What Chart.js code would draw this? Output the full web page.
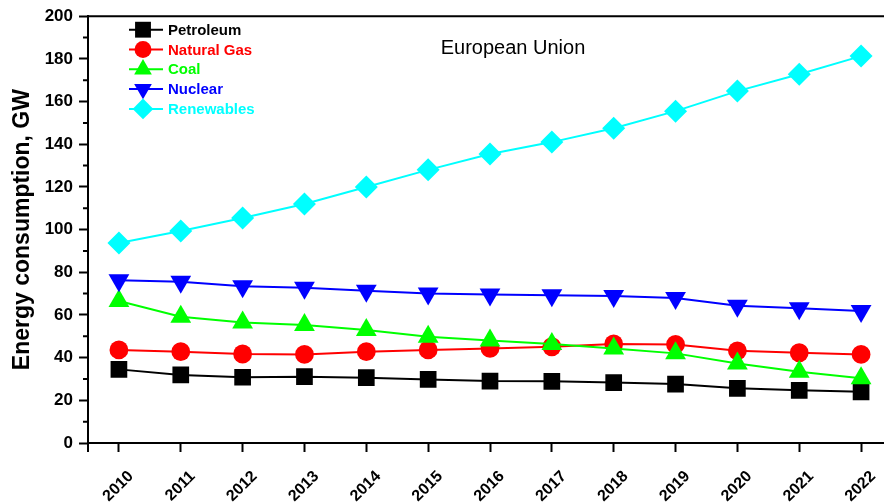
<!DOCTYPE html>
<html>
<head>
<meta charset="utf-8">
<script src="https://cdn.jsdelivr.net/npm/chart.js@4/dist/chart.umd.min.js"></script>
<style>
  html, body { margin: 0; padding: 0; background: #fff; overflow: hidden; width: 884px; height: 503px; }
  canvas { display: block; }
</style>
</head>
<body>
<canvas id="energy" width="904" height="503"></canvas>
<script>
// Annual energy consumption in the European Union, GW
const years = ['2010', '2011', '2012', '2013', '2014', '2015', '2016', '2017', '2018', '2019', '2020', '2021', '2022'];
const petroleum  = [34.5, 31.9, 30.8, 31.1, 30.6, 29.8, 29.0, 28.9, 28.3, 27.6, 25.6, 24.7, 24.0];
const naturalGas = [43.6, 42.8, 41.7, 41.5, 42.8, 43.6, 44.3, 45.1, 46.4, 46.2, 43.2, 42.3, 41.5];
const coal       = [66.5, 59.2, 56.5, 55.3, 52.9, 49.8, 48.0, 46.4, 44.3, 42.0, 37.3, 33.4, 30.3];
const nuclear    = [76.3, 75.6, 73.5, 72.8, 71.3, 70.1, 69.6, 69.2, 68.9, 67.9, 64.3, 63.1, 61.8];
const renewables = [93.7, 99.3, 105.4, 112.0, 120.0, 128.0, 135.4, 141.0, 147.5, 155.5, 164.9, 172.8, 181.3];
const yTicks      = [0, 20, 40, 60, 80, 100, 120, 140, 160, 180, 200];
const yMinorTicks = [10, 30, 50, 70, 90, 110, 130, 150, 170, 190];

const FONT = '"Liberation Sans", Arial, Helvetica, sans-serif';

function series(label, data, color, style, radius, rotation, order) {
  return {
    label, data,
    borderColor: color, backgroundColor: color,
    borderWidth: 2,
    pointStyle: style, pointRadius: radius, pointHoverRadius: radius,
    pointRotation: rotation,
    pointBorderWidth: 0,
    pointBackgroundColor: color,
    tension: 0,
    order
  };
}

// Axis frame, minor ticks, inset legend and panel title
const decorations = {
  id: 'decorations',
  afterDatasetsDraw(chart) {
    const { ctx, chartArea: a, scales: { y } } = chart;
    ctx.save();
    ctx.strokeStyle = '#000';
    ctx.lineWidth = 2;
    ctx.beginPath();
    ctx.moveTo(a.left - 1, a.top);
    ctx.lineTo(a.right, a.top);
    ctx.lineTo(a.right, a.bottom);
    ctx.moveTo(a.left, a.bottom);
    ctx.lineTo(a.left, a.bottom + 9);
    yMinorTicks.forEach(v => {
      const p = y.getPixelForValue(v);
      ctx.moveTo(a.left - 5, p);
      ctx.lineTo(a.left, p);
    });
    ctx.stroke();

    // panel title
    ctx.fillStyle = '#000';
    ctx.font = '20px ' + FONT;
    ctx.textAlign = 'center';
    ctx.textBaseline = 'alphabetic';
    ctx.fillText('European Union', a.left + 425, a.top + 38);

    // legend
    ctx.font = 'bold 15px ' + FONT;
    ctx.textAlign = 'left';
    ctx.textBaseline = 'middle';
    const legendScale = [0.95, 0.9, 0.85, 0.85, 0.9];
    chart.data.datasets.forEach((ds, i) => {
      const cy = a.top + 13.5 + i * 19.8;
      const cx = a.left + 55;
      ctx.strokeStyle = ds.borderColor;
      ctx.lineWidth = 2;
      ctx.beginPath();
      ctx.moveTo(cx - 14, cy);
      ctx.lineTo(cx + 20, cy);
      ctx.stroke();
      ctx.fillStyle = ds.backgroundColor;
      Chart.helpers.drawPoint(ctx, {
        pointStyle: ds.pointStyle,
        rotation: ds.pointRotation,
        radius: ds.pointRadius * legendScale[i],
        borderWidth: 0
      }, cx, cy);
      ctx.fillStyle = ds.borderColor;
      ctx.fillText(ds.label, cx + 25, cy + 1);
    });
    ctx.restore();
  }
};

new Chart(document.getElementById('energy'), {
  type: 'line',
  data: {
    labels: years,
    datasets: [
      series('Petroleum',   petroleum,  '#000000', 'rect',     11.8, 0,   5),
      series('Natural Gas', naturalGas, '#ff0000', 'circle',    9.4, 0,   4),
      series('Coal',        coal,       '#00ff00', 'triangle', 12,   0,   3),
      series('Nuclear',     nuclear,    '#0000ff', 'triangle', 12,   180, 2),
      series('Renewables',  renewables, '#00ffff', 'rectRot',  11.5, 0,   1)
    ]
  },
  options: {
    responsive: false,
    animation: false,
    devicePixelRatio: 1,
    layout: { padding: { left: 0, right: 8, top: 15, bottom: 0 } },
    plugins: {
      legend: { display: false },
      tooltip: { enabled: false },
      title: { display: false }
    },
    scales: {
      x: {
        type: 'category',
        offset: true,
        grid: {
          offset: false,
          drawOnChartArea: false,
          drawTicks: true,
          tickLength: 9,
          tickWidth: 2,
          tickColor: '#000'
        },
        border: { display: true, color: '#000', width: 2 },
        ticks: {
          autoSkip: false,
          minRotation: 45,
          maxRotation: 45,
          color: '#000',
          font: { family: FONT, size: 16, weight: 'bold' },
          padding: 15,
          labelOffset: 12
        },
        afterFit(scale) { scale.height = 503 - 443; }
      },
      y: {
        type: 'linear',
        min: 0,
        max: 200,
        afterBuildTicks(scale) { scale.ticks = yTicks.map(v => ({ value: v })); },
        grid: {
          drawOnChartArea: false,
          drawTicks: true,
          tickLength: 9,
          tickWidth: 2,
          tickColor: '#000'
        },
        border: { display: true, color: '#000', width: 2 },
        ticks: {
          color: '#000',
          font: { family: FONT, size: 17, weight: 'bold' },
          padding: 6
        },
        title: {
          display: true,
          text: 'Energy consumption, GW',
          color: '#000',
          font: { family: FONT, size: 23, weight: 'bold' },
          padding: { top: 9, bottom: 0 }
        },
        afterFit(scale) { scale.width = 88; }
      }
    }
  },
  plugins: [decorations]
});
</script>
</body>
</html>
